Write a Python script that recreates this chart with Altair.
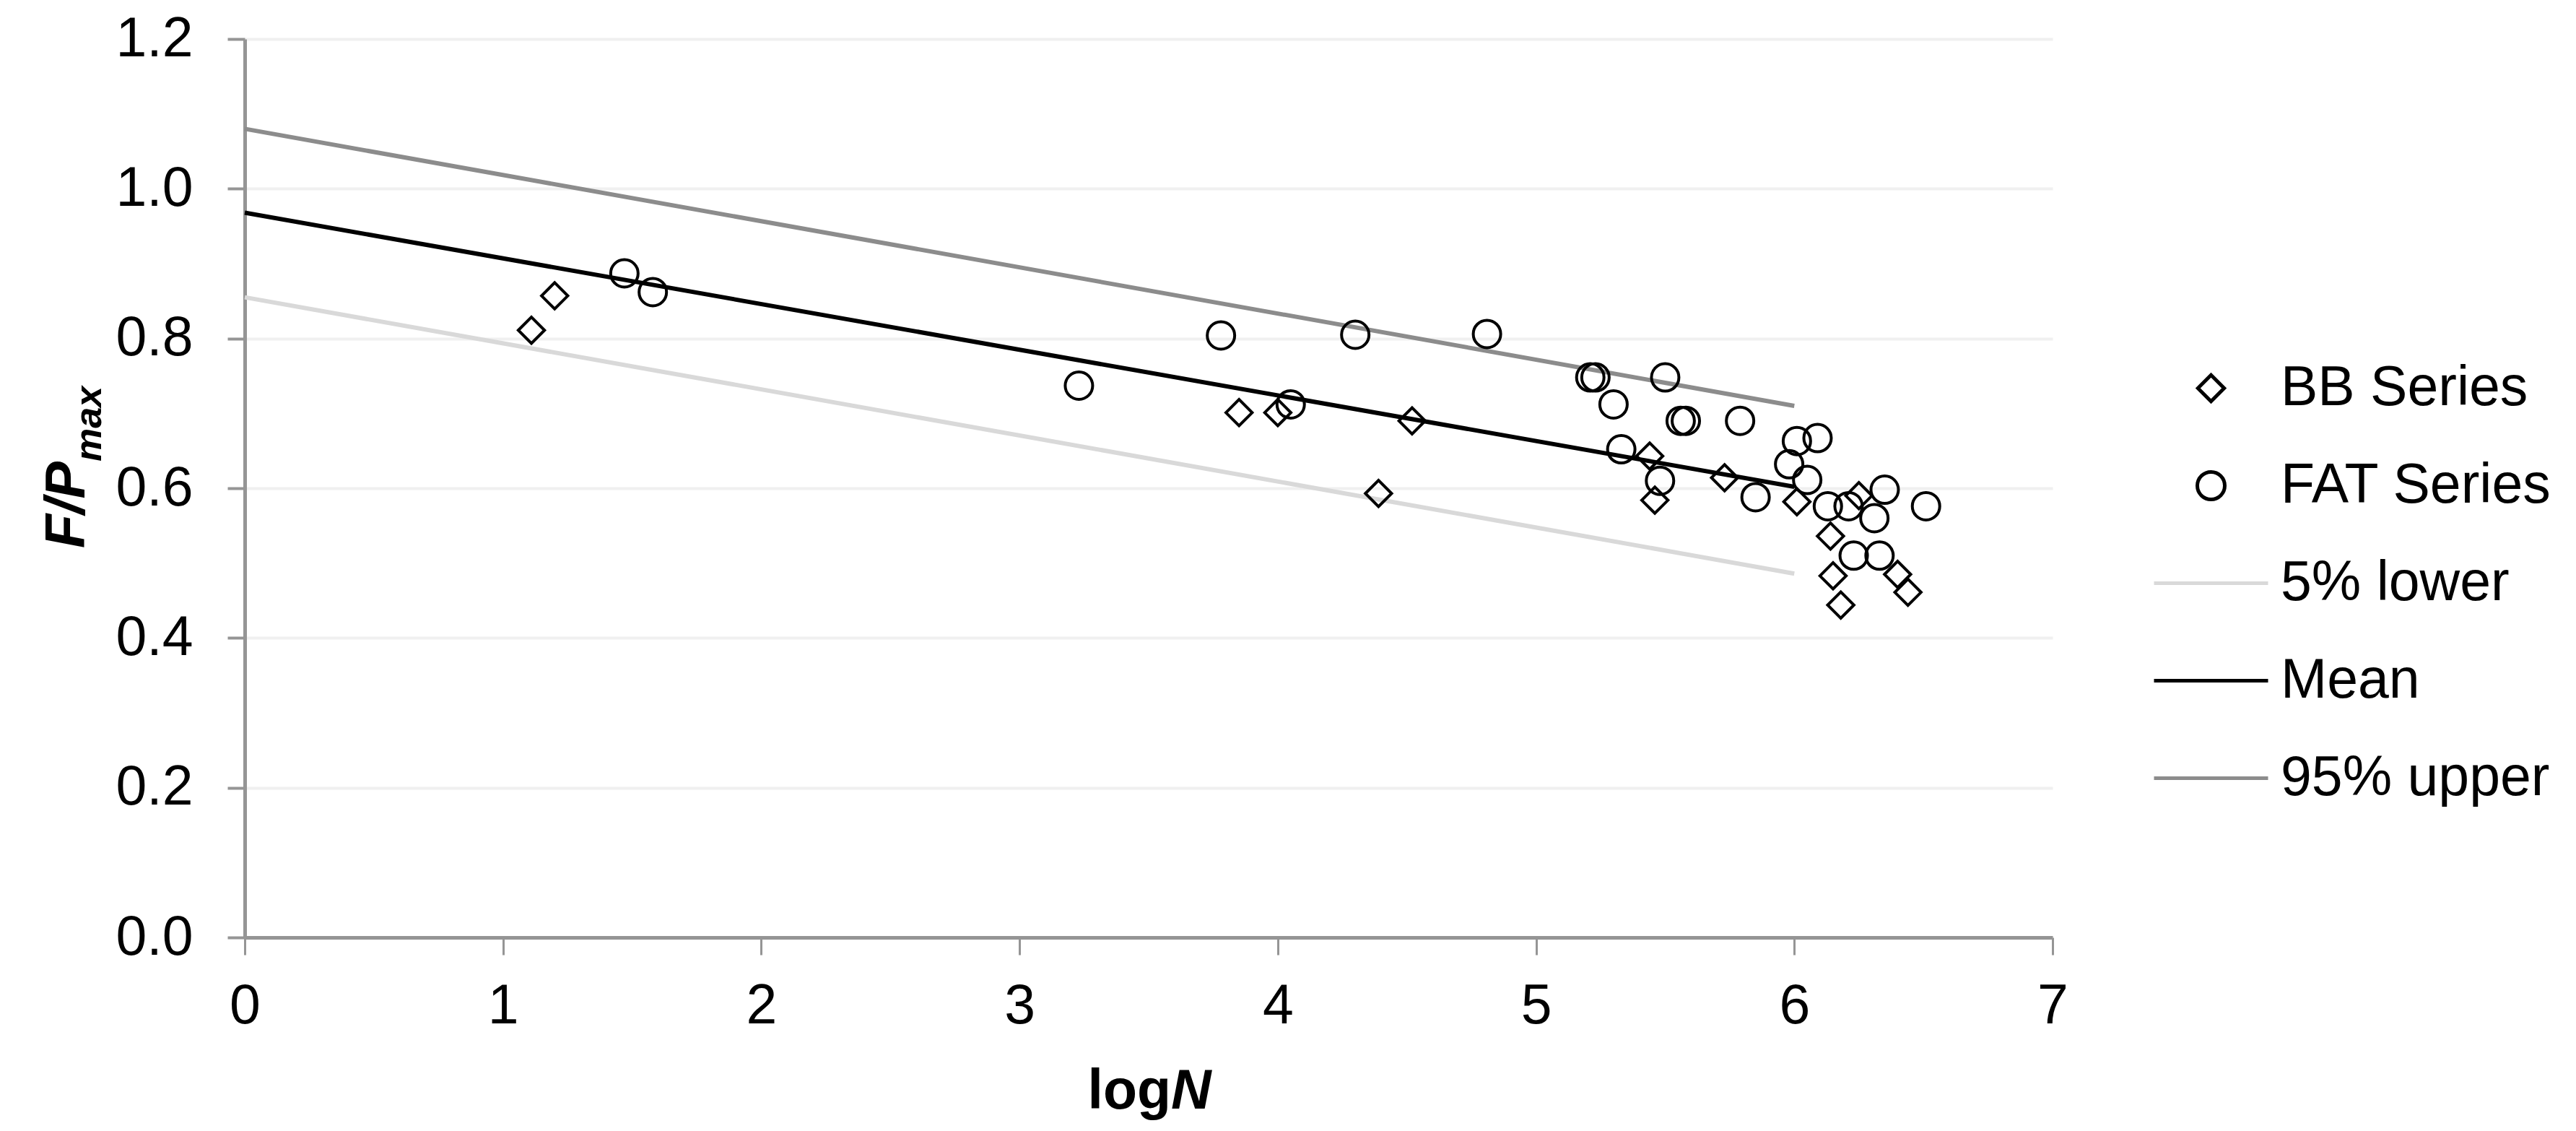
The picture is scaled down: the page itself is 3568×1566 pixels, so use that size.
import altair as alt
import pandas as pd

# ---- data ----
bb_x = [1.11, 1.20, 3.85, 4.00, 4.39, 4.52, 5.44, 5.46, 5.73, 6.01, 6.14, 6.15, 6.18, 6.25, 6.40, 6.44]
bb_y = [0.811, 0.857, 0.701, 0.701, 0.593, 0.690, 0.643, 0.584, 0.614, 0.582, 0.536, 0.483, 0.444, 0.590, 0.485, 0.461]

fat_x = [1.47, 1.58, 3.23, 3.78, 4.05, 4.30, 4.81, 5.21, 5.23, 5.30, 5.33, 5.48, 5.50, 5.56, 5.58,
         5.79, 5.85, 5.98, 6.01, 6.05, 6.09, 6.13, 6.21, 6.23, 6.31, 6.33, 6.35, 6.51]
fat_y = [0.887, 0.862, 0.737, 0.804, 0.712, 0.805, 0.806, 0.748, 0.748, 0.712, 0.652, 0.610, 0.748, 0.690, 0.690,
         0.690, 0.588, 0.632, 0.663, 0.611, 0.667, 0.576, 0.576, 0.510, 0.560, 0.510, 0.598, 0.576]

line_x = [0, 6]
lower_y = [0.855, 0.486]
mean_y = [0.968, 0.602]
upper_y = [1.080, 0.710]

series_names = ["BB Series", "FAT Series", "5% lower", "Mean", "95% upper"]
series_colors = ["#000000", "#000000", "#d9d9d9", "#000000", "#8c8c8c"]
# custom symbol paths (scaled by sqrt(size)/2)
diamond_path = "M-0.23,0L0,-0.23L0.23,0L0,0.23Z"
circle_path = "M0.2405,0A0.2405,0.2405 0 1,1 -0.2405,0A0.2405,0.2405 0 1,1 0.2405,0Z"
line_path = "M-1,0L1,0"
series_shapes = [diamond_path, circle_path, line_path, line_path, line_path]

x_ticks = [0, 1, 2, 3, 4, 5, 6, 7]
y_ticks = [0.0, 0.2, 0.4, 0.6, 0.8, 1.0, 1.2]

pts = pd.DataFrame({
    "logN": bb_x + fat_x,
    "ratio": bb_y + fat_y,
    "series": ["BB Series"] * len(bb_x) + ["FAT Series"] * len(fat_x),
})
lines = pd.DataFrame({
    "logN": line_x * 3,
    "ratio": lower_y + mean_y + upper_y,
    "series": ["5% lower"] * 2 + ["Mean"] * 2 + ["95% upper"] * 2,
})

FONT = "Liberation Sans"
AX = "#959595"
SYM_SIZE = 24964

x_enc = alt.X("logN:Q", scale=alt.Scale(domain=[0, 7], nice=False, zero=False),
              axis=alt.Axis(values=x_ticks, format="d", title=None, grid=False,
                            labelPadding=33, tickSize=24, tickWidth=3, labelFlush=False,
                            labelOverlap=False))
y_enc = alt.Y("ratio:Q", scale=alt.Scale(domain=[0, 1.2], nice=False),
              axis=alt.Axis(values=y_ticks, format=".1f", title=None, grid=True,
                            gridColor="#f0f0f0", gridWidth=4,
                            labelPadding=48, tickSize=24, tickWidth=4, labelFlush=False,
                            labelOverlap=False))

legend = alt.Legend(title=None, orient="none", legendX=2642, legendY=402,
                    labelFont=FONT, labelFontSize=77, labelColor="#000000", labelLimit=2000,
                    labelOffset=15, rowPadding=15, symbolStrokeWidth=5,
                    symbolSize=SYM_SIZE, symbolFillColor="transparent", padding=0)

stroke_enc = alt.Stroke("series:N", scale=alt.Scale(domain=series_names, range=series_colors), legend=legend)
shape_enc = alt.Shape("series:N", scale=alt.Scale(domain=series_names, range=series_shapes), legend=legend)

line_layer = alt.Chart(lines).mark_line(strokeWidth=6, strokeCap="butt").encode(
    x=x_enc, y=y_enc, stroke=stroke_enc)

point_layer = alt.Chart(pts).mark_point(filled=False, strokeWidth=4, size=SYM_SIZE, opacity=1).encode(
    x=x_enc, y=y_enc, stroke=stroke_enc, shape=shape_enc)

one = pd.DataFrame({"k": [0]})
ytitle_main = alt.Chart(one).mark_text(text="F/P", font=FONT, fontSize=77, fontWeight="bold",
                                       fontStyle="italic", angle=270, align="left",
                                       baseline="alphabetic", color="#000000").encode(
    x=alt.value(-222), y=alt.value(705))
ytitle_sub = alt.Chart(one).mark_text(text="max", font=FONT, fontSize=52, fontWeight="bold",
                                      fontStyle="italic", angle=270, align="left",
                                      baseline="alphabetic", color="#000000").encode(
    x=alt.value(-199), y=alt.value(585))
xtitle_main = alt.Chart(one).mark_text(text="log", font=FONT, fontSize=77, fontWeight="bold",
                                       align="right", baseline="alphabetic", color="#000000").encode(
    x=alt.value(1283), y=alt.value(1481))
xtitle_it = alt.Chart(one).mark_text(text="N", font=FONT, fontSize=77, fontWeight="bold",
                                     fontStyle="italic", align="left", baseline="alphabetic",
                                     color="#000000").encode(
    x=alt.value(1283), y=alt.value(1481))

chart = alt.layer(line_layer, point_layer, ytitle_main, ytitle_sub, xtitle_main, xtitle_it).properties(
    width=2504, height=1244,
    autosize=alt.AutoSizeParams(type="none"),
    padding={"left": 331, "top": 46, "right": 700, "bottom": 268},
).configure_view(stroke=None).configure_axis(
    labelFont=FONT, labelFontSize=77, labelColor="#000000",
    domainColor=AX, domainWidth=5, tickColor=AX,
)

chart.save("out.html", embed_options={"renderer": "svg", "actions": False})
